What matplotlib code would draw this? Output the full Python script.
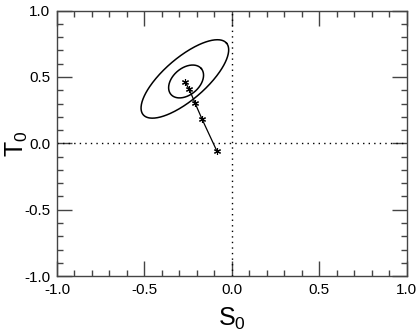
import numpy as np
import matplotlib.pyplot as plt
from matplotlib.ticker import MultipleLocator

plt.rcParams['font.family'] = ['Liberation Sans', 'DejaVu Sans']
plt.rcParams['mathtext.default'] = 'regular'

# track of (S0, T0) estimates
s0 = [-0.269, -0.244, -0.210, -0.171, -0.086]
t0 = [0.464, 0.407, 0.301, 0.183, -0.058]

# contour ellipses: centre and two conjugate semi-axis vectors (data units)
outer_c = (-0.269, 0.485)
outer_u = (0.238, 0.270)
outer_v = (0.078, -0.120)
inner_c = (-0.262, 0.466)
inner_u = (0.087, 0.097)
inner_v = (0.049, -0.077)

fig = plt.figure(figsize=(4.16, 3.31), dpi=100)
ax = fig.add_axes([0.137, 0.166, 0.841, 0.802])

t = np.linspace(0, 2 * np.pi, 300)
for c, u, v in [(outer_c, outer_u, outer_v), (inner_c, inner_u, inner_v)]:
    ex = c[0] + u[0] * np.cos(t) + v[0] * np.sin(t)
    ey = c[1] + u[1] * np.cos(t) + v[1] * np.sin(t)
    ax.plot(ex, ey, color='black', lw=1.1)

ax.axhline(0, color='black', lw=1.0, ls=(0, (1, 3)))
ax.axvline(0, color='black', lw=1.0, ls=(0, (1, 3)))

ax.plot(s0, t0, color='black', lw=0.9, marker=(6, 2, 0), ms=5, mew=0.8)

ax.set_xlim(-1, 1)
ax.set_ylim(-1, 1)
ax.xaxis.set_major_locator(MultipleLocator(0.5))
ax.yaxis.set_major_locator(MultipleLocator(0.5))
ax.xaxis.set_minor_locator(MultipleLocator(0.1))
ax.yaxis.set_minor_locator(MultipleLocator(0.1))
ax.xaxis.set_major_formatter(plt.FormatStrFormatter('%.1f'))
ax.yaxis.set_major_formatter(plt.FormatStrFormatter('%.1f'))
ax.tick_params(which='both', direction='in', top=True, right=True,
               color='#444444', labelsize=11, pad=5)
ax.tick_params(which='major', length=11, width=1)
ax.tick_params(which='minor', length=4.5, width=1)
for sp in ax.spines.values():
    sp.set_color('#444444')
    sp.set_linewidth(1)

ax.set_xlabel('$S_0$', fontsize=18, labelpad=6)
ax.set_ylabel('$T_0$', fontsize=18)
ax.yaxis.set_label_coords(-0.077, 0.5)

fig.savefig('out.png', dpi=100)
